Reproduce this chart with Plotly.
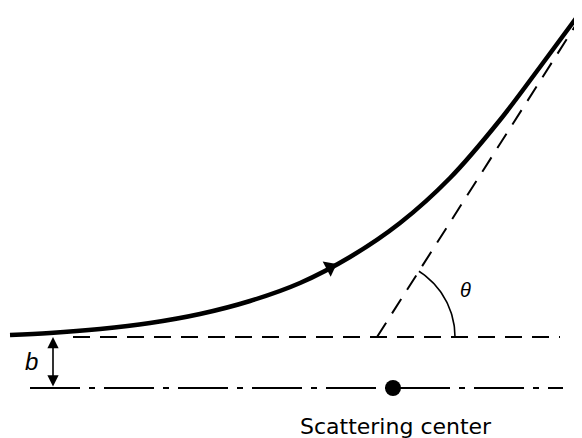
import numpy as np
import plotly.graph_objects as go

# ---- data (pixel-space diagram coordinates) ----
traj_x = [10, 50, 100, 150, 200, 250, 300, 350, 400, 450, 500, 540, 577]
traj_y = [335, 333, 329, 323, 314, 301, 283, 257, 223, 178, 120, 67, 17]

impact_y = 337          # incoming asymptote level
axis_y = 388            # line through scattering center
center_x = 393          # scattering center
vertex_x = 377          # where outgoing asymptote meets incoming line
theta_deg = 57.5        # scattering angle
arc_radius = 78
asym_top_y = 20
hline_x = [73, 560]
axis_x = [30, 563]
b_arrow_x = 53
arrow_at_x = 330

W, H = 582, 438
OFF = 8  # default page body margin
fig = go.Figure()

# incoming asymptote (dashed)
fig.add_trace(go.Scatter(x=hline_x, y=[impact_y, impact_y], mode="lines",
                         line=dict(color="black", width=2, dash="17px,10px"),
                         hoverinfo="skip"))

# outgoing asymptote (dashed)
th = np.radians(theta_deg)
L = (impact_y - asym_top_y) / np.sin(th)
fig.add_trace(go.Scatter(x=[vertex_x, vertex_x + L * np.cos(th)],
                         y=[impact_y, impact_y - L * np.sin(th)], mode="lines",
                         line=dict(color="black", width=2, dash="17px,11px"),
                         hoverinfo="skip"))

# axis through scattering center (dash-dot)
fig.add_trace(go.Scatter(x=axis_x, y=[axis_y, axis_y], mode="lines",
                         line=dict(color="black", width=2, dash="50px,9px,6px,9px"),
                         hoverinfo="skip"))

# angle arc
a = np.linspace(0, th, 40)
fig.add_trace(go.Scatter(x=vertex_x + arc_radius * np.cos(a),
                         y=impact_y - arc_radius * np.sin(a), mode="lines",
                         line=dict(color="black", width=1.6), hoverinfo="skip"))

# trajectory
fig.add_trace(go.Scatter(x=traj_x, y=traj_y, mode="lines",
                         line=dict(color="black", width=4.5, shape="spline", smoothing=1.0),
                         hoverinfo="skip"))

# arrowhead on trajectory
ay_pt = float(np.interp(arrow_at_x, traj_x, traj_y))
y2 = float(np.interp(arrow_at_x + 5, traj_x, traj_y))
y1 = float(np.interp(arrow_at_x - 5, traj_x, traj_y))
ang = np.degrees(np.arctan2(10, -(y2 - y1)))  # clockwise from up, screen coordinates
fig.add_trace(go.Scatter(x=[arrow_at_x], y=[ay_pt], mode="markers",
                         marker=dict(symbol="triangle-up", size=15, color="black", angle=ang),
                         hoverinfo="skip"))

# scattering center
fig.add_trace(go.Scatter(x=[center_x], y=[axis_y], mode="markers",
                         marker=dict(symbol="circle", size=16, color="black"),
                         hoverinfo="skip"))

# b double arrow
fig.add_annotation(x=b_arrow_x, y=impact_y, ax=b_arrow_x, ay=axis_y,
                   xref="x", yref="y", axref="x", ayref="y", text="",
                   showarrow=True, arrowhead=2, arrowsize=1.4, arrowwidth=1.6,
                   arrowside="end+start", arrowcolor="black")

fig.add_annotation(x=31, y=361, xref="x", yref="y", text="<i>b</i>", showarrow=False,
                   font=dict(family="Liberation Sans, Arial", size=24, color="black"))
fig.add_annotation(x=465, y=290, xref="x", yref="y", text="<i>θ</i>", showarrow=False,
                   font=dict(family="Liberation Sans, Arial", size=20, color="black"))
fig.add_annotation(x=396, y=426, xref="x", yref="y", text="Scattering center", showarrow=False,
                   font=dict(family="DejaVu Sans", size=22, color="black"))

fig.update_layout(width=W - OFF, height=H - OFF, margin=dict(l=0, r=0, t=0, b=0),
                  paper_bgcolor="white", plot_bgcolor="white", showlegend=False,
                  xaxis=dict(range=[OFF, W], visible=False, fixedrange=True),
                  yaxis=dict(range=[H, OFF], visible=False, fixedrange=True))

fig.write_html("out.html")
